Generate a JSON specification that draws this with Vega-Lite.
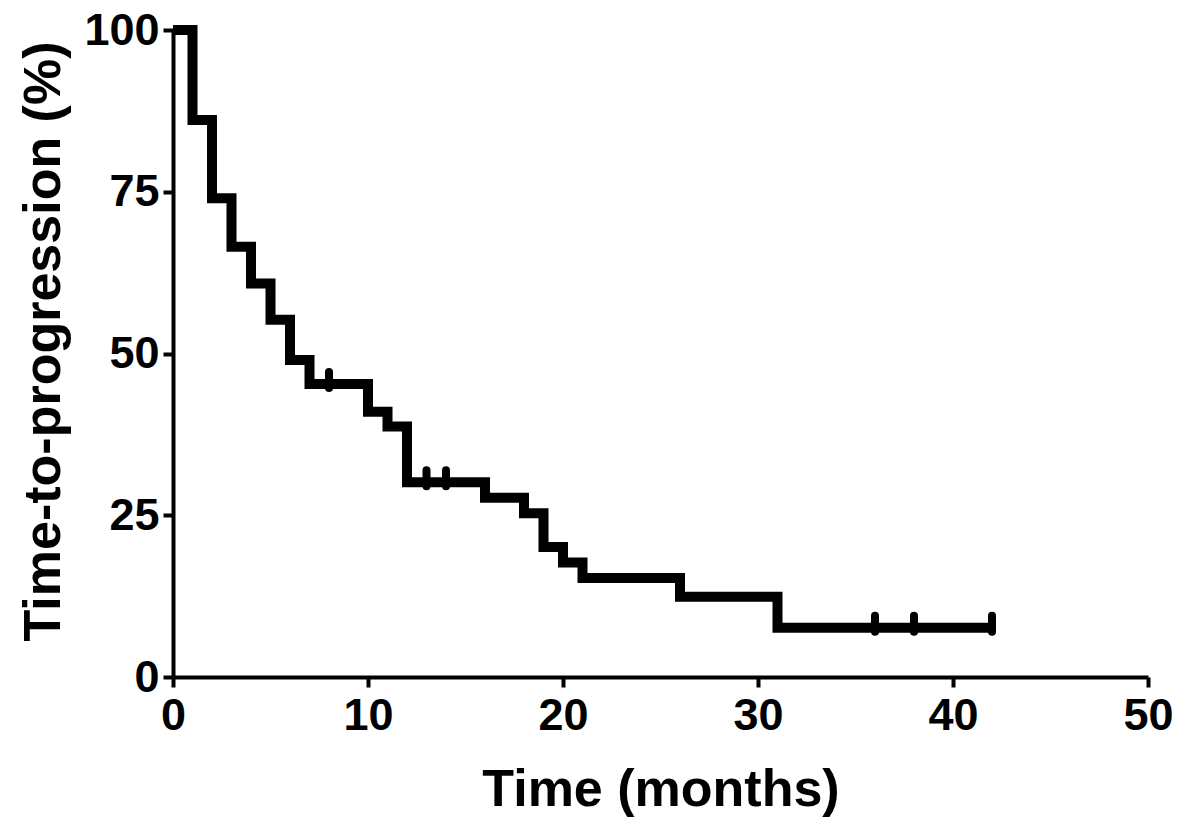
{
  "$schema": "https://vega.github.io/schema/vega-lite/v6.json",
  "width": 975,
  "height": 647,
  "autosize": {"type": "none"},
  "padding": {"left": 173, "top": 30, "right": 52, "bottom": 163},
  "background": "white",
  "config": {
    "view": {"stroke": null},
    "font": "Liberation Sans",
    "axis": {
      "grid": false,
      "domainColor": "black",
      "domainWidth": 4,
      "tickColor": "black",
      "tickWidth": 4,
      "tickSize": 10,
      "labelFont": "Liberation Sans",
      "labelFontWeight": "bold",
      "labelFontSize": 45,
      "labelColor": "black",
      "labelFlush": false,
      "labelOverlap": false,
      "titleFont": "Liberation Sans",
      "titleFontWeight": "bold",
      "titleFontSize": 52,
      "titleColor": "black"
    }
  },
  "datasets": {
    "curve": [
      {"time": 0, "pct": 100},
      {"time": 1, "pct": 86.1},
      {"time": 2, "pct": 74.0},
      {"time": 3, "pct": 66.5},
      {"time": 4, "pct": 60.8},
      {"time": 5, "pct": 55.2},
      {"time": 6, "pct": 49.0},
      {"time": 7, "pct": 45.3},
      {"time": 10, "pct": 41.0},
      {"time": 11, "pct": 38.7},
      {"time": 12, "pct": 30.1},
      {"time": 16, "pct": 27.7},
      {"time": 18, "pct": 25.3},
      {"time": 19, "pct": 20.1},
      {"time": 20, "pct": 17.7},
      {"time": 21, "pct": 15.3},
      {"time": 26, "pct": 12.4},
      {"time": 31, "pct": 7.6},
      {"time": 42, "pct": 7.6}
    ],
    "censored": [
      {"time": 8, "pct": 45.3},
      {"time": 13, "pct": 30.1},
      {"time": 14, "pct": 30.1},
      {"time": 36, "pct": 7.6},
      {"time": 38, "pct": 7.6},
      {"time": 42, "pct": 7.6}
    ]
  },
  "layer": [
    {
      "data": {"name": "curve"},
      "mark": {"type": "line", "interpolate": "step-after", "color": "black", "strokeWidth": 10, "strokeJoin": "miter", "strokeCap": "butt"},
      "encoding": {
        "x": {
          "field": "time", "type": "quantitative",
          "scale": {"domain": [0, 50], "nice": false},
          "axis": {"values": [0, 10, 20, 30, 40, 50], "title": "Time (months)", "labelPadding": 6, "titlePadding": 26}
        },
        "y": {
          "field": "pct", "type": "quantitative",
          "scale": {"domain": [0, 100], "nice": false},
          "axis": {"values": [0, 25, 50, 75, 100], "title": "Time-to-progression (%)", "labelPadding": 4, "titlePadding": 13, "titleY": 311}
        }
      }
    },
    {
      "data": {"name": "censored"},
      "mark": {"type": "point", "shape": "M0,-1L0,1", "size": 256, "stroke": "black", "strokeWidth": 8, "strokeCap": "round", "filled": false, "opacity": 1, "yOffset": -4},
      "encoding": {
        "x": {"field": "time", "type": "quantitative"},
        "y": {"field": "pct", "type": "quantitative"}
      }
    }
  ]
}
